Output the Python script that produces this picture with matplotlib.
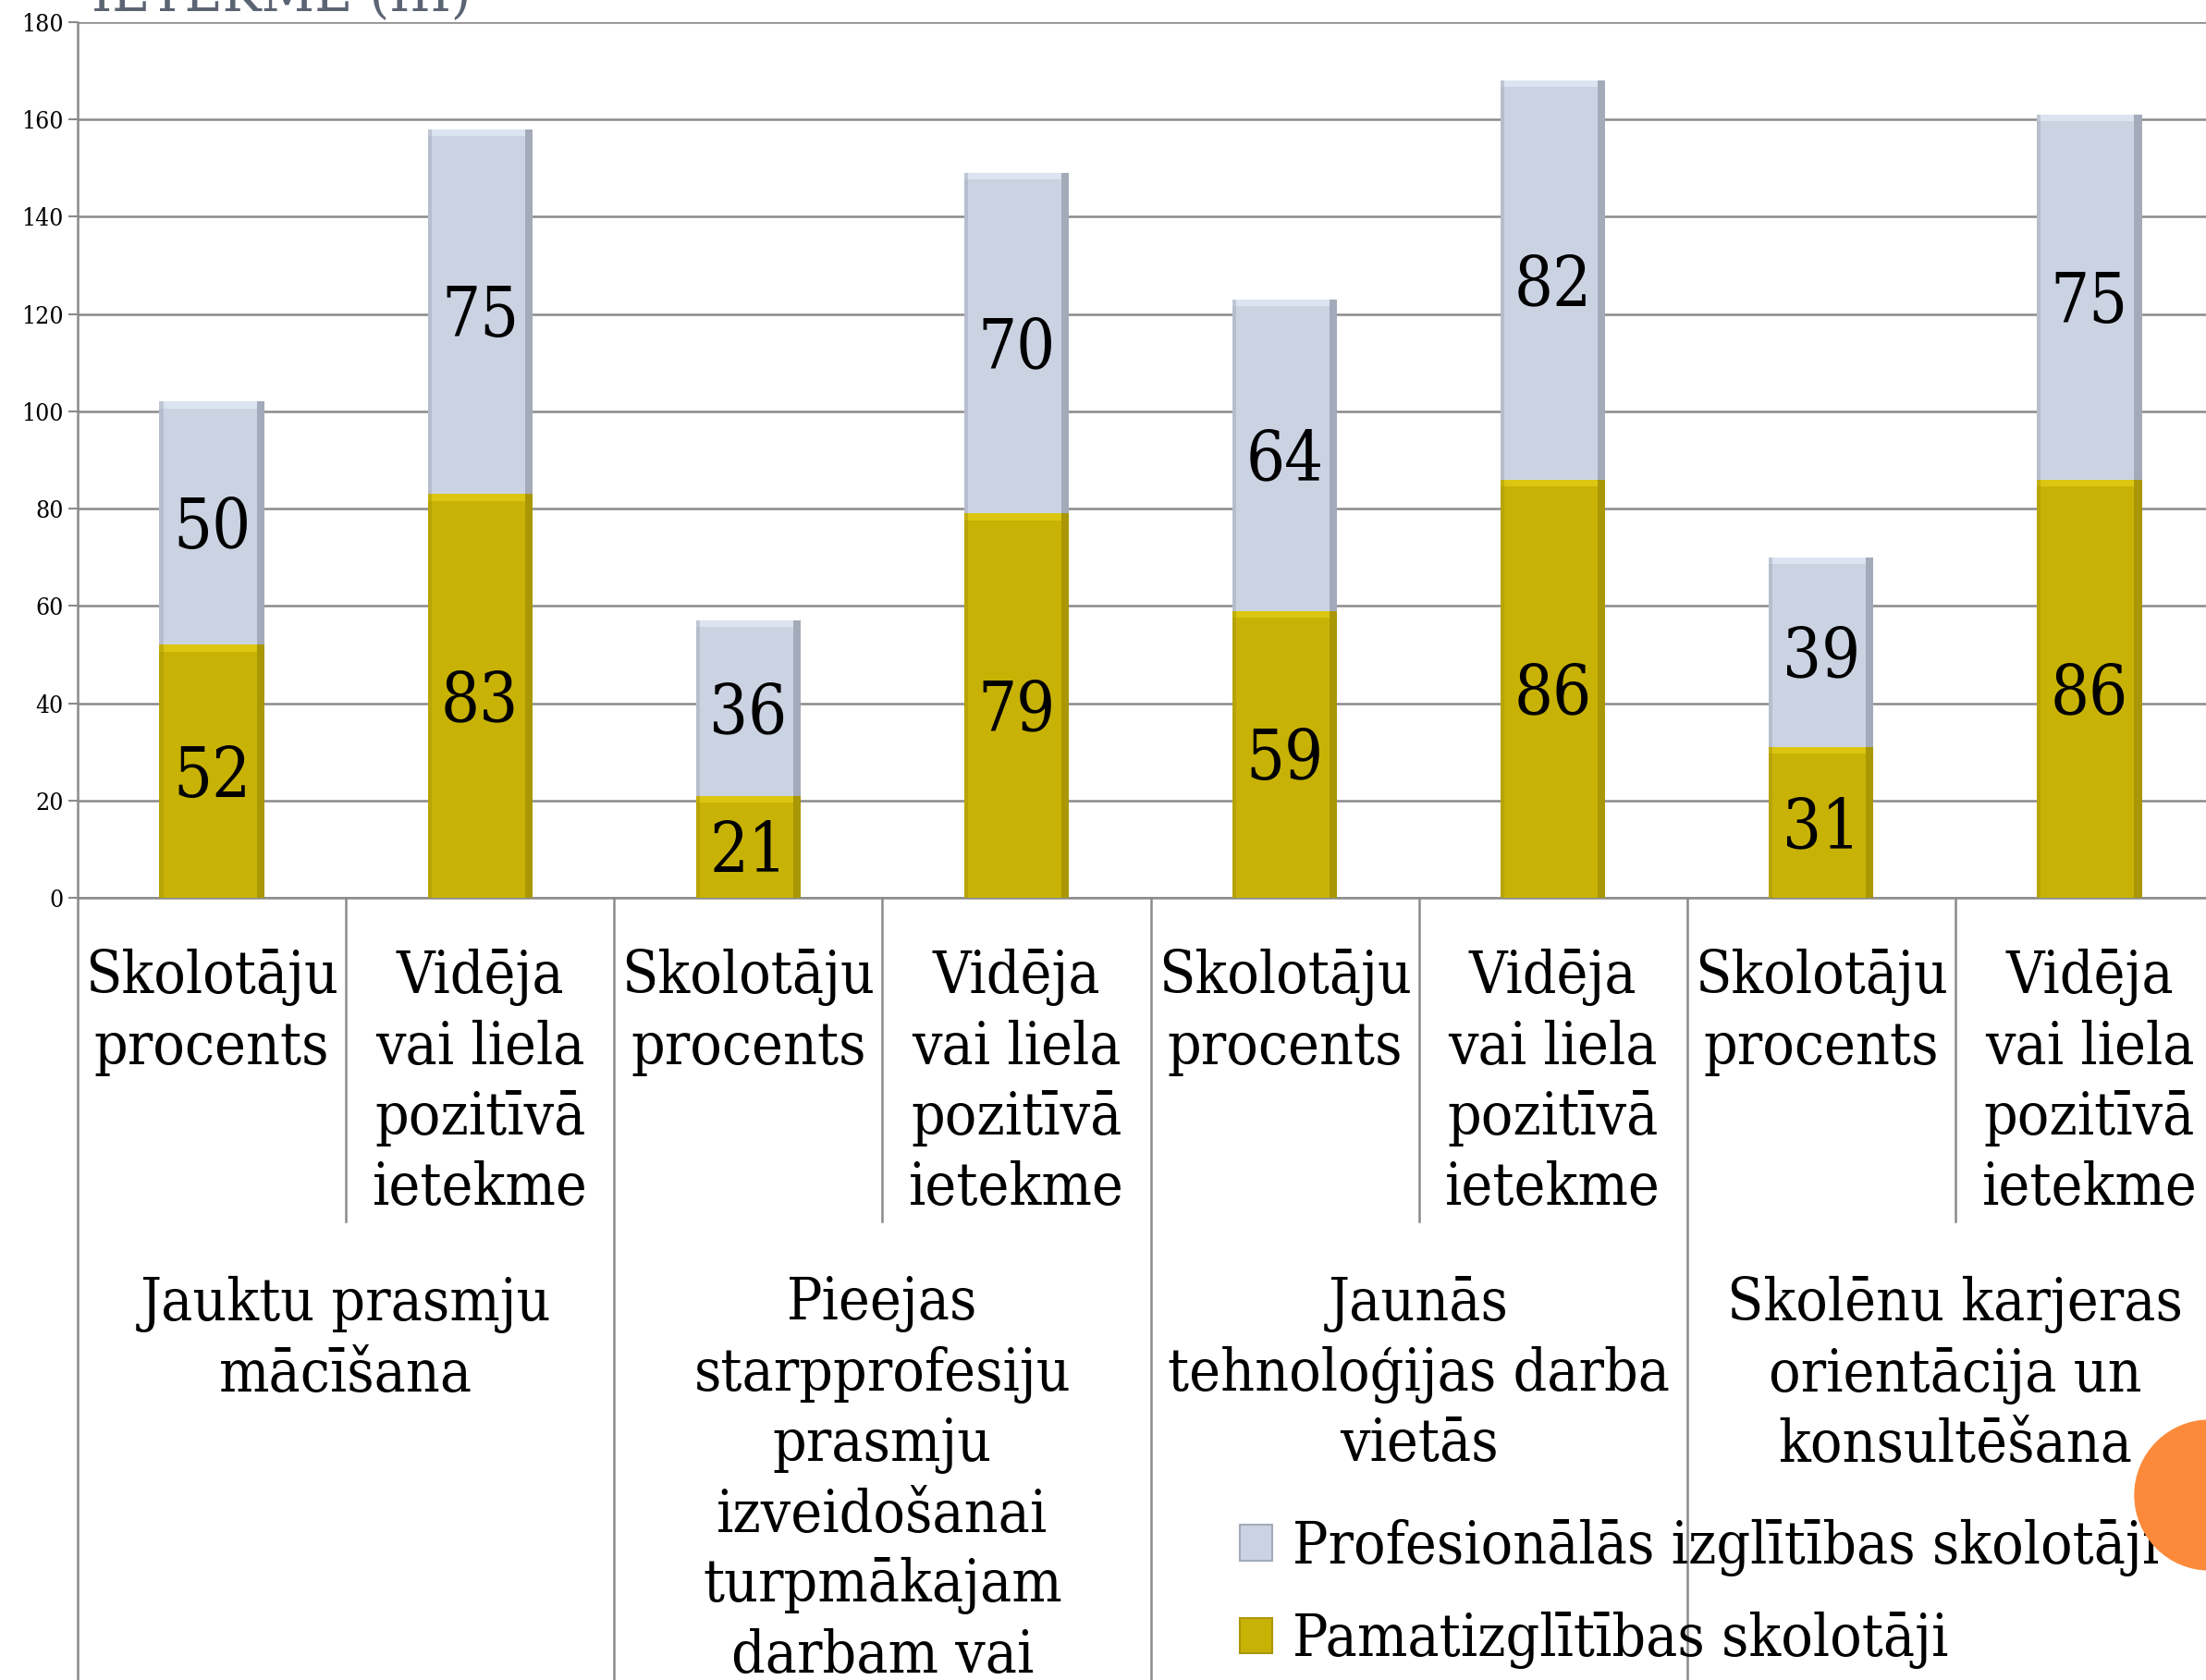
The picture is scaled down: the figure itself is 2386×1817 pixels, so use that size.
import matplotlib
matplotlib.use("Agg")
import matplotlib.pyplot as plt
import numpy as np
from matplotlib.patches import Ellipse, Patch

# --- data -----------------------------------------------------------------
sub_labels = ["Skolotāju\nprocents", "Vidēja\nvai liela\npozitīvā\nietekme"] * 4
group_labels = [
    "Jauktu prasmju\nmācīšana",
    "Pieejas\nstarpprofesiju\nprasmju\nizveidošanai\nturpmākajam\ndarbam vai",
    "Jaunās\ntehnoloģijas darba\nvietās",
    "Skolēnu karjeras\norientācija un\nkonsultēšana",
]
pamat = [52, 83, 21, 79, 59, 86, 31, 86]        # Pamatizglītības skolotāji
prof = [50, 75, 36, 70, 64, 82, 39, 75]         # Profesionālās izglītības skolotāji
series_names = ["Profesionālās izglītības skolotāji", "Pamatizglītības skolotāji"]
yticks = list(range(0, 181, 20))

# --- style ----------------------------------------------------------------
plt.rcParams["font.family"] = ["DejaVu Serif"]
plt.rcParams["font.stretch"] = "condensed"
col_prof = "#CBD3E3"
col_prof_hi = "#DDE4F1"
col_prof_dk = "#A3ABBA"
col_pamat = "#C8B206"
col_pamat_hi = "#DCC611"
col_pamat_dk = "#A99705"
grid_col = "#8A8A8A"

W, H = 2386, 1817
fig = plt.figure(figsize=(W / 100, H / 100), dpi=100)
x0, xr, y_top, y_zero = 84, 2405, 24, 971
ax = fig.add_axes([x0 / W, 1 - y_zero / H, (xr - x0) / W, (y_zero - y_top) / H])

x = np.arange(len(pamat))
bw = 0.39
ax.bar(x, pamat, bw, color=col_pamat, zorder=3)
ax.bar(x, prof, bw, bottom=pamat, color=col_prof, zorder=3)

# bevel look: light top band, darker side strips
band = 1.4
side = 0.028
for vals, bottoms, hi, dk in [(pamat, [0] * 8, col_pamat_hi, col_pamat_dk),
                              (prof, pamat, col_prof_hi, col_prof_dk)]:
    tops = np.array(bottoms) + np.array(vals)
    ax.bar(x, [band] * 8, bw, bottom=tops - band, color=hi, zorder=4)
    ax.bar(x + bw / 2 - side / 2, vals, side, bottom=bottoms, color=dk, zorder=4)
    ax.bar(x - bw / 2 + side / 4, vals, side / 2, bottom=bottoms, color=dk, alpha=0.5, zorder=4)

for i in range(len(x)):
    ax.annotate(str(pamat[i]), (x[i], pamat[i] / 2), xytext=(0, -5), textcoords="offset points",
                ha="center", va="center", fontsize=53, color="black", zorder=5)
    ax.annotate(str(prof[i]), (x[i], pamat[i] + prof[i] / 2), xytext=(0, -5),
                textcoords="offset points", ha="center", va="center", fontsize=53,
                color="black", zorder=5)

ax.set_xlim(-0.5, 7.5)
ax.set_ylim(0, 180)
ax.set_yticks(yticks)
ax.tick_params(axis="y", labelsize=19, length=7, width=1.5, color=grid_col, pad=4)
ax.tick_params(axis="x", bottom=False, labelbottom=False)
ax.yaxis.grid(True, color=grid_col, linewidth=1.8, zorder=0)
ax.set_axisbelow(True)
for s in ["top", "right"]:
    ax.spines[s].set_visible(False)
ax.spines["left"].set_color(grid_col)
ax.spines["left"].set_linewidth(1.8)
ax.spines["bottom"].set_color(grid_col)
ax.spines["bottom"].set_linewidth(1.8)

# category separators below the axis
trans = ax.get_xaxis_transform()
ax_h = y_zero - y_top
fig_bottom = -(H - y_zero) / ax_h
sub_bottom = -(1321 - y_zero) / ax_h
for k in range(9):
    xs = k - 0.5
    yb = fig_bottom if k % 2 == 0 else sub_bottom
    ax.plot([xs, xs], [0, yb], transform=trans, color=grid_col, lw=1.8, clip_on=False)

for i, lab in enumerate(sub_labels):
    ax.text(x[i], -(1026 - y_zero) / ax_h, lab, transform=trans, ha="center", va="top",
            fontsize=46, linespacing=1.31, clip_on=False)
for g, lab in enumerate(group_labels):
    ax.text(2 * g + 0.5, -(1380 - y_zero) / ax_h, lab, transform=trans, ha="center", va="top",
            fontsize=46, linespacing=1.3, clip_on=False)

# title peeking in at the top of the slide
fig.text(99 / W, 1 - 12 / H, "IETEKME (III)", ha="left", va="baseline",
         fontsize=45, color="#5B6473")

# orange slide decoration
fig.patches.append(Ellipse((2390 / W, 1 - 1617 / H), 162 / W, 162 / H,
                           transform=fig.transFigure, color="#FD8A3B", zorder=10))

handles = [Patch(facecolor=col_prof, edgecolor=col_prof_dk, linewidth=1.5),
           Patch(facecolor=col_pamat, edgecolor=col_pamat_dk, linewidth=1.5)]
fig.legend(handles, series_names, loc="upper left", bbox_to_anchor=(1341 / W, 1 - 1643 / H),
           frameon=False, fontsize=46, handlelength=0.55, handleheight=0.55,
           handletextpad=0.35, labelspacing=0.6, borderpad=0, borderaxespad=0)

fig.savefig("out.png", dpi=100)
